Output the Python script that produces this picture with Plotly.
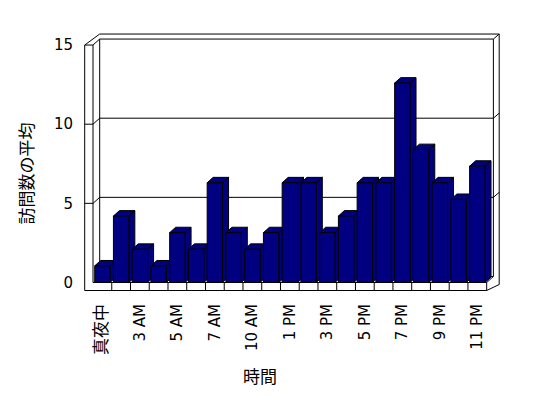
import plotly.graph_objects as go

# ---- data ----
categories = ["真夜中", "1 AM", "3 AM", "4 AM", "5 AM", "6 AM", "7 AM", "8 AM",
              "10 AM", "11 AM", "1 PM", "2 PM", "3 PM", "4 PM", "5 PM", "6 PM",
              "7 PM", "8 PM", "9 PM", "10 PM", "11 PM"]
values = [1.05, 4.2, 2.1, 1.05, 3.15, 2.1, 6.3, 3.15, 2.1, 3.15, 6.3, 6.3,
          3.15, 4.2, 6.3, 6.3, 12.6, 8.4, 6.3, 5.25, 7.35]
y_ticks = [0, 5, 10, 15]
y_title = "訪問数の平均"
x_title = "時間"

# ---- geometry / style constants ----
N = len(categories)
YMAX = 15
X0, X1 = -0.5, N - 0.5          # front floor edges
DX, DY = 0.357, 0.379            # depth offset of back wall
LT = 0.443                       # left wall thickness (x units)
FT = 0.505                       # floor thickness (y units)
BTX, BTY = 0.31, 0.316           # back wall thickness
HW = 0.41                        # half bar width
BDX, BDY = 0.9 * DX, 0.9 * DY    # bar depth
NAVY = "#000080"

fig = go.Figure()

# ---- bars (3D faces built from values) ----
sx, sy, tx, ty, fx, fy = [], [], [], [], [], []
for i, h in enumerate(values):
    l, r = i - HW, i + HW
    sx += [r, r + BDX, r + BDX, r, r, None]
    sy += [0, BDY, h + BDY, h, 0, None]
    tx += [l, r, r + BDX, l + BDX, l, None]
    ty += [h, h, h + BDY, h + BDY, h, None]
    fx += [l, r, r, l, l, None]
    fy += [0, 0, h, h, 0, None]
for xs, ys in [(sx, sy), (tx, ty), (fx, fy)]:
    fig.add_trace(go.Scatter(x=xs, y=ys, mode="lines", fill="toself",
                             fillcolor=NAVY, line=dict(color="black", width=1),
                             hoverinfo="skip", showlegend=False))

# ---- frame shapes (walls / floor) ----
shapes = []
def ln(xa, ya, xb, yb):
    shapes.append(dict(type="line", xref="x", yref="y", x0=xa, y0=ya, x1=xb, y1=yb,
                       line=dict(color="black", width=1), layer="below"))

# left wall front face
ln(X0 - LT, -FT, X0 - LT, YMAX)
ln(X0, 0, X0, YMAX)
ln(X0 - LT, YMAX, X0, YMAX)
# floor front face
ln(X0, 0, X1, 0)
ln(X0 - LT, -FT, X1, -FT)
ln(X1, -FT, X1, 0)
for k in range(1, N):
    ln(X0 + k, -FT, X0 + k, 0)
# floor back edge and right diagonals
ln(X0 + DX, DY, X1 + DX, DY)
ln(X1, 0, X1 + DX, DY)
ln(X1, -FT, X1 + DX + BTX, -FT + DY)
# back wall
ln(X0 + DX, DY, X0 + DX, YMAX + DY)
ln(X1 + DX, DY, X1 + DX, YMAX + DY)
ln(X0 + DX, YMAX + DY, X1 + DX, YMAX + DY)
# back wall outer (thickness)
ln(X1 + DX + BTX, -FT + DY, X1 + DX + BTX, YMAX + DY + BTY)
ln(X0 + DX, YMAX + DY + BTY, X1 + DX + BTX, YMAX + DY + BTY)
ln(X0 - LT, YMAX, X0 + DX, YMAX + DY + BTY)
ln(X0, YMAX, X0 + DX, YMAX + DY)
ln(X1 + DX, YMAX + DY, X1 + DX + BTX, YMAX + DY + BTY)
# gridlines
for v in y_ticks[1:-1]:
    ln(X0 - LT, v, X0, v)
    ln(X0, v, X0 + DX, v + DY)
    ln(X0 + DX, v + DY, X1 + DX, v + DY)
    ln(X1 + DX, v + DY, X1 + DX + BTX, v + DY + BTY)

tickvals = list(range(0, N, 2))
ticktext = []
for i in tickvals:
    t = categories[i]
    if any(ord(c) > 0x3000 for c in t):
        t = '<span style="font-size:17px">' + t + '</span>'
    ticktext.append(t)

fig.update_layout(
    width=540, height=390,
    margin=dict(l=76, r=46, t=25, b=106),
    paper_bgcolor="white", plot_bgcolor="white",
    font=dict(family="DejaVu Sans, Noto Sans CJK JP", size=15, color="black"),
    shapes=shapes,
    showlegend=False,
    xaxis=dict(range=[X0 - 0.48, X1 + DX + BTX + 0.15], showgrid=False, zeroline=False,
               showline=False, ticks="", tickmode="array", tickvals=tickvals,
               ticktext=ticktext, tickangle=-90, ticklabelstandoff=8, fixedrange=True,
               tickfont=dict(color="black", size=15)),
    yaxis=dict(range=[-0.6, 15.761], showgrid=False, zeroline=False, showline=False,
               ticks="", tickmode="array", tickvals=y_ticks,
               ticktext=[str(v) for v in y_ticks], ticklabelstandoff=10, fixedrange=True,
               tickfont=dict(color="black", size=15)),
    annotations=[
        dict(text=y_title, xref="paper", yref="paper", x=-0.1388, y=0.4575,
             showarrow=False, textangle=-90, font=dict(size=17, color="black",
             family="Noto Sans CJK JP"), xanchor="center", yanchor="middle"),
        dict(text=x_title, xref="paper", yref="paper", x=0.421, y=-0.3205,
             showarrow=False, font=dict(size=17, color="black", family="Noto Sans CJK JP"),
             xanchor="center", yanchor="middle"),
    ],
)

fig.write_html("out.html")
